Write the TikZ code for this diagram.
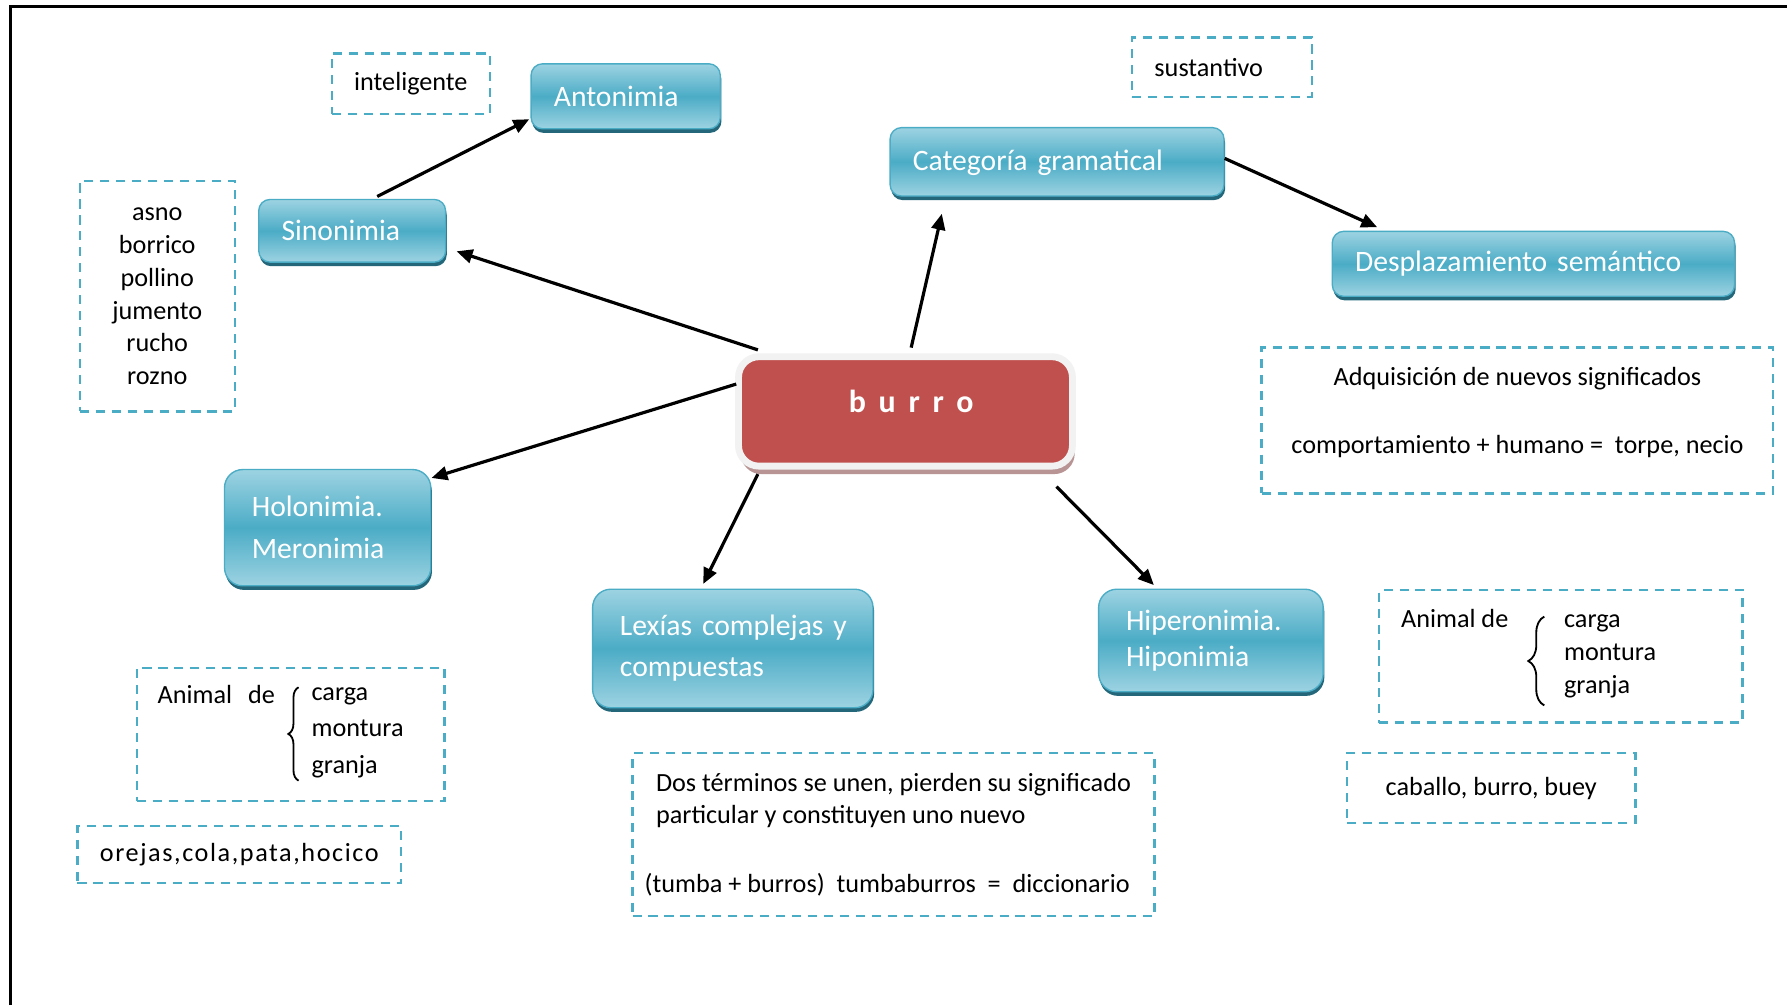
\documentclass[tikz,border=0pt]{standalone}
\usepackage{fontspec}
\setmainfont{Carlito}
\usetikzlibrary{arrows.meta,calc,shadows,decorations.pathreplacing}
\definecolor{tealmid}{HTML}{4BACC6}
\definecolor{teallight}{HTML}{9DD3E2}
\definecolor{tealshadow}{HTML}{24677A}
\definecolor{dashteal}{HTML}{4BACC6}
\definecolor{burrored}{HTML}{C0504D}
\definecolor{burrorim}{HTML}{F2F2F2}
\definecolor{burroshadow}{HTML}{B89594}

\begin{document}
\begin{tikzpicture}[x=0.5pt,y=-0.5pt,
  concept/.style={draw=tealmid, line width=0.6pt, rounded corners=5pt,
    top color=teallight, bottom color=teallight, middle color=tealmid,
    general shadow={fill=tealshadow, shadow yshift=-1.8pt, shadow xshift=0.5pt},
    text=white, font=\fontsize{13}{18}\selectfont, align=left,
    inner xsep=10pt, inner ysep=0pt},
  bigconcept/.style={concept, rounded corners=8pt, inner xsep=12pt},
  dashbox/.style={draw=dashteal, line width=1pt, dash pattern=on 4pt off 3pt,
    inner sep=0pt, text=black, font=\fontsize{11.5}{14}\selectfont},
  plain/.style={inner sep=0pt, text=black, font=\fontsize{11.5}{14}\selectfont},
  curly/.style={decorate, decoration={brace, amplitude=#1}, line width=0.8pt},
  arr/.style={-{Triangle[length=7pt,width=6pt]}, line width=1.4pt, black}]

% page and frame
\fill[white] (0,0) rectangle (1568,882);
\useasboundingbox (0,0) rectangle (1568,882);
\draw[line width=1.3pt] (9,882) -- (9,6) -- (1568,6);

% central concept
\node[fill=burrored, draw=burrorim, line width=3pt, rounded corners=9pt,
  general shadow={fill=burroshadow, shadow xshift=1pt, shadow yshift=-3.5pt},
  minimum width=146.5pt, minimum height=48pt, text=white,
  font=\fontsize{14}{16}\bfseries\addfontfeature{LetterSpace=40},
  text height=10pt, text depth=9pt] (burro) at (794.5,361) {\hspace*{5pt}burro};

% related concepts
\node[concept, text width=63pt, minimum height=28.5pt] (anto) at (549,84.5) {Antonimia};
\node[concept, text width=62pt, minimum height=27.5pt] (sino) at (309,202.5) {Sinonimia};
\node[concept, text width=126.5pt, minimum height=30pt, text depth=1pt] (cat) at (927.5,142) {Categoría gramatical};
\node[concept, text width=156.5pt, minimum height=28.5pt] (desp) at (1345.5,231.5) {Desplazamiento semántico};
\node[bigconcept, text width=66.5pt, minimum height=51pt,
  font=\fontsize{13}{18.5}\selectfont] (holo) at (287.5,463) {Holonimia.\\Meronimia};
\node[bigconcept, text width=99pt, minimum height=52pt] (lex) at (643,569) {\mbox{Lexías complejas y}\\compuestas};
\node[bigconcept, text width=74.5pt, minimum height=45pt,
  font=\fontsize{13}{16}\selectfont] (hiper) at (1062.5,562) {Hiperonimia.\\Hiponimia};

% examples
\node[dashbox, minimum width=69.5pt, minimum height=26.5pt] (intel) at (360.5,73.5) {inteligente};
\node[dashbox, minimum width=68pt, minimum height=101pt, align=center,
  font=\fontsize{11.5}{14.4}\selectfont] (syn) at (138,260) {asno\\borrico\\pollino\\jumento\\rucho\\rozno};
\node[dashbox, minimum height=26pt, text width=59pt, inner xsep=10pt, align=left] (sust) at (1072,59) {sustantivo};
\node[dashbox, minimum width=224.5pt, minimum height=64pt, align=center] (adq) at (1331.5,369)
  {Adquisición de nuevos significados\\[16pt]comportamiento + humano =\ \ torpe, necio\\[-5pt]\mbox{}};

% kinds of animal (left)
\node[dashbox, minimum width=135pt, minimum height=58.5pt] (animL) at (255,644.5) {};
\node[plain, anchor=base west] (animLtxt) at (138,617) {Animal\hspace{7pt}de};
\node[plain, anchor=west, align=left, font=\fontsize{11.5}{16}\selectfont] (animLlist) at (273,643)
  {carga\\montura\\granja};
\draw[curly=4.5pt] ($(animLlist.south west)+(-11,2)$) -- ($(animLlist.north west)+(-11,0)$);

\node[dashbox, minimum width=142pt, minimum height=25pt,
  font=\fontsize{11.5}{14}\selectfont\addfontfeature{LetterSpace=6}] (parts) at (210,750) {orejas,cola,pata,hocico};

\node[dashbox, minimum width=229pt, minimum height=71.5pt, align=left] (dos) at (784,732.5)
  {Dos términos se unen, pierden su significado\\particular y constituyen uno nuevo\\[16pt]\hspace*{-5pt}(tumba + burros)\ \ tumbaburros \ = \ diccionario};

% kinds of animal (right)
\node[dashbox, minimum width=159.5pt, minimum height=58pt] (animR) at (1369.5,576) {};
\node[plain, anchor=base west] (animRtxt) at (1229,551) {Animal de};
\node[plain, anchor=west, align=left, font=\fontsize{11.5}{14.5}\selectfont] (animRlist) at (1372,576)
  {carga\\montura\\granja};
\draw[curly=7pt] ($(animRlist.south west)+(-17,6)$) -- ($(animRlist.north west)+(-17,2)$);

\node[dashbox, minimum width=126.5pt, minimum height=30.5pt] (cab) at (1308.5,691.5) {caballo, burro, buey};

% connectors
\draw[arr] ($(sino.north)+(22,-2)$) -- ($(anto.south west)+(-1,-9)$);
\draw[arr] ($(burro.north west)+(20,-3)$) -- ($(sino.east)+(9,18)$);
\draw[arr] ($(burro.north)+(5,-5)$) -- ($(cat.south west)+(46,15)$);
\draw[arr] ($(cat.east)+(0,-3)$) -- ($(desp.north west)+(40,-3)$);
\draw[arr] ($(burro.north west)+(1,27)$) -- ($(holo.north east)+(0,8)$);
\draw[arr] ($(burro.south west)+(20,4)$) -- ($(lex.north)+(-26,-4)$);
\draw[arr] ($(burro.south east)+(-17,15)$) -- ($(hiper.north)+(-50,-3)$);
\end{tikzpicture}
\end{document}
